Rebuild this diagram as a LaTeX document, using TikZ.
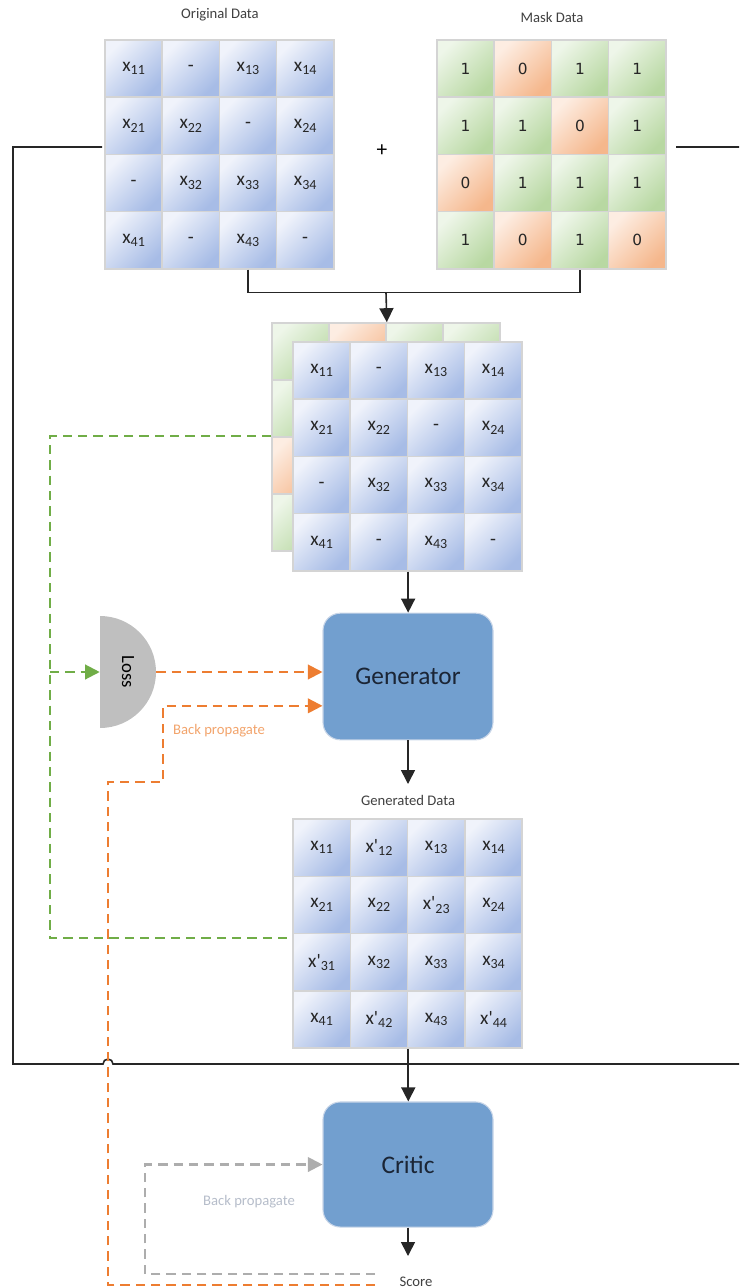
\documentclass[tikz,border=0pt]{standalone}
\usepackage{fontspec}
\setmainfont{Carlito}
\newfontfamily\digitfont{DejaVu Sans}
\usetikzlibrary{arrows.meta,calc}

\definecolor{cellline}{HTML}{D4D4D4}
\definecolor{blueA}{HTML}{F0F3FB}
\definecolor{blueB}{HTML}{A7BCE6}
\definecolor{greenA}{HTML}{EEF6E9}
\definecolor{greenB}{HTML}{B8D8A2}
\definecolor{orangeA}{HTML}{FDEDE2}
\definecolor{orangeB}{HTML}{F5B78C}
\definecolor{boxblue}{HTML}{729FCF}
\definecolor{boxline}{HTML}{C9D6E8}
\definecolor{boxtext}{HTML}{1B2535}
\definecolor{lossgray}{HTML}{BFBFBF}
\definecolor{grn}{HTML}{70AD47}
\definecolor{org}{HTML}{ED7D31}
\definecolor{gry}{HTML}{ADADAD}
\definecolor{labeltext}{HTML}{404040}
\definecolor{orglabel}{HTML}{F2A46C}
\definecolor{grylabel}{HTML}{B6BDCA}

% cell entries: x with a lowered index, optionally primed
\newcommand\subidx[1]{\raisebox{-0.35ex}{\fontsize{10.5}{12}\selectfont #1}}
\newcommand\cellx[1]{x\subidx{#1}}
\newcommand\cellxp[1]{x\textquotesingle\subidx{#1}}

\tikzset{
  cellbase/.style={draw=cellline, line width=1.1pt, minimum width=42.9pt,
    minimum height=42.9pt, inner sep=0pt, font=\fontsize{14.5}{16}\selectfont,
    text=black!85},
  bluecell/.style={cellbase, top color=blueA, bottom color=blueB, shading angle=45},
  greencell/.style={cellbase, top color=greenA, bottom color=greenB, shading angle=45,
    font=\digitfont\fontsize{11.5}{13}\selectfont},
  orangecell/.style={cellbase, top color=orangeA, bottom color=orangeB, shading angle=45,
    font=\digitfont\fontsize{11.5}{13}\selectfont},
  lbl/.style={font=\fontsize{11}{13}\selectfont, text=labeltext, inner sep=0pt},
  netbox/.style={rounded corners=13pt, fill=boxblue, draw=boxline, line width=0.8pt,
    minimum width=127.5pt, font=\fontsize{19}{22}\selectfont, text=boxtext},
  blk/.style={line width=1.2pt, draw=black!85},
  blkarr/.style={blk, -{Triangle[length=10.5pt,width=10.5pt]}},
  dsh/.style={line width=1.6pt, dash pattern=on 7pt off 4.5pt},
  grnline/.style={dsh, draw=grn},
  orgline/.style={dsh, draw=org},
  gryline/.style={dsh, draw=gry},
  tipg/.style={-{Triangle[length=11pt,width=11pt,fill=grn]}},
  tipo/.style={-{Triangle[length=11pt,width=11pt,fill=org]}},
  tipy/.style={-{Triangle[length=11pt,width=11pt,fill=gry]}},
}

% 4x4 grid of cells: name, left, top, step, list of style/text
\newcommand\cellgrid[5]{%
  \foreach \sty/\txt [count=\k from 0] in {#5} {
    \pgfmathtruncatemacro\rr{int(\k/4)}
    \pgfmathtruncatemacro\cc{mod(\k,4)}
    \node[\sty] (#1-\rr-\cc) at ({#2+(\cc+0.5)*#4},{#3+(\rr+0.5)*#4}) {\txt};
  }}

\begin{document}
\begin{tikzpicture}[x=0.75pt,y=-0.75pt]
\useasboundingbox (0,0) rectangle (739,1288);
\clip (0,0) rectangle (739,1288);

% ---- input matrices
\cellgrid{orig}{105}{40}{57.2}{%
  bluecell/\cellx{11}, bluecell/-, bluecell/\cellx{13}, bluecell/\cellx{14},
  bluecell/\cellx{21}, bluecell/\cellx{22}, bluecell/-, bluecell/\cellx{24},
  bluecell/-, bluecell/\cellx{32}, bluecell/\cellx{33}, bluecell/\cellx{34},
  bluecell/\cellx{41}, bluecell/-, bluecell/\cellx{43}, bluecell/-}
\cellgrid{mask}{437}{40}{57.2}{%
  greencell/1, orangecell/0, greencell/1, greencell/1,
  greencell/1, greencell/1, orangecell/0, greencell/1,
  orangecell/0, greencell/1, greencell/1, greencell/1,
  greencell/1, orangecell/0, greencell/1, orangecell/0}
\node[lbl] (origlabel) at (220,15) {Original Data};
\node[lbl] (masklabel) at (552,17) {Mask Data};
\node[font=\fontsize{16}{18}\selectfont, inner sep=0pt] (plus) at (382,151) {+};

% ---- combined (stacked) input
\cellgrid{sb}{272}{323}{57}{%
  greencell/{}, orangecell/{}, greencell/{}, greencell/{},
  greencell/{}, greencell/{}, orangecell/{}, greencell/{},
  orangecell/{}, greencell/{}, greencell/{}, greencell/{},
  greencell/{}, orangecell/{}, greencell/{}, orangecell/{}}
\cellgrid{st}{293}{342}{57.2}{%
  bluecell/\cellx{11}, bluecell/-, bluecell/\cellx{13}, bluecell/\cellx{14},
  bluecell/\cellx{21}, bluecell/\cellx{22}, bluecell/-, bluecell/\cellx{24},
  bluecell/-, bluecell/\cellx{32}, bluecell/\cellx{33}, bluecell/\cellx{34},
  bluecell/\cellx{41}, bluecell/-, bluecell/\cellx{43}, bluecell/-}

% ---- networks
\node[netbox, minimum height=95pt] (gen) at (408,676.5) {Generator};
\node[netbox, minimum height=93.8pt] (critic) at (408,1164.5) {Critic};

% ---- generated output
\node[lbl] (genlabel) at (408,800) {Generated Data};
\cellgrid{gm}{293}{819}{57.3}{%
  bluecell/\cellx{11}, bluecell/\cellxp{12}, bluecell/\cellx{13}, bluecell/\cellx{14},
  bluecell/\cellx{21}, bluecell/\cellx{22}, bluecell/\cellxp{23}, bluecell/\cellx{24},
  bluecell/\cellxp{31}, bluecell/\cellx{32}, bluecell/\cellx{33}, bluecell/\cellx{34},
  bluecell/\cellx{41}, bluecell/\cellxp{42}, bluecell/\cellx{43}, bluecell/\cellxp{44}}

% ---- loss
\fill[lossgray] (100,616) arc[start angle=-90,end angle=90,radius=56] -- cycle;
\node[minimum width=42pt, minimum height=84pt, inner sep=0pt,
  font=\fontsize{14}{16}\selectfont] (loss) at (128,672) {\rotatebox{-90}{Loss}};

\node[font=\fontsize{11}{13}\selectfont, text=orglabel, inner sep=0pt] (bp1) at (219,731) {Back propagate};
\node[font=\fontsize{11}{13}\selectfont, text=grylabel, inner sep=0pt] (bp2) at (249,1202) {Back propagate};
\node[lbl] (score) at (416,1282) {Score};

% ---- named points
\coordinate (join) at (386,292.5);
\coordinate (lin) at (102,147);
\coordinate (rin) at (676,147);
\coordinate (merge) at (407.6,1064);
\coordinate (gentip) at (408,784);
\coordinate (scoretip) at (408,1256);
\coordinate (gsplit) at (50,672);
\coordinate (gmin) at ([yshift=-3.5pt]gm-2-0.north west);
\coordinate (orgstart) at (375,1285);
\coordinate (grystart) at (375,1274);

% ---- solid connectors
\draw[blk] (orig-3-2.south) -- (orig-3-2.south |- join) -| (mask-3-2.south);
\draw[blkarr] (join) -- (sb-0-1.north east);
\draw[blkarr] (st-3-1.south east) -- (st-3-1.south east |- gen.north);
\draw[blkarr] (gen.south) -- (gentip);
\draw[blkarr] (gm-3-1.south east) -- (gm-3-1.south east |- critic.north);
\draw[blkarr] (critic.south) -- (scoretip);
\draw[blk] (lin) -- (13,147) -- (13,1064) -- (103,1064)
  arc[start angle=180,end angle=360,radius=5] -- (merge);
\draw[blk] (rin) -- (760,147) -- (760,1064) -- (merge);

% ---- dashed feedback
\draw[grnline] (sb-2-0.north west) -| (gsplit) |- (gmin);
\draw[grnline, tipg] (gsplit) -- (loss.west);
\draw[orgline, tipo] (loss.east) -- (loss.east -| gen.west);
\draw[orgline, tipo] (orgstart) -- (108,1285) -- (108,782) -- (163,782)
  |- ([yshift=-22pt]gen.west);
\draw[gryline, tipy] (grystart) -- (145,1274) |- (critic.west);
\end{tikzpicture}
\end{document}
